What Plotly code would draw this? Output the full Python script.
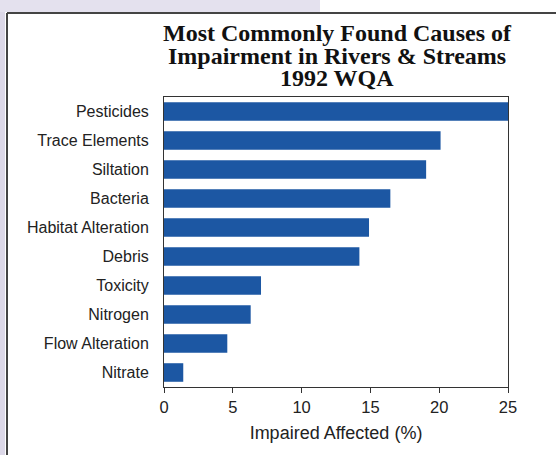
import plotly.graph_objects as go

categories = ["Pesticides", "Trace Elements", "Siltation", "Bacteria", "Habitat Alteration",
              "Debris", "Toxicity", "Nitrogen", "Flow Alteration", "Nitrate"]
values = [25.0, 20.1, 19.05, 16.45, 14.9, 14.2, 7.05, 6.3, 4.6, 1.4]
x_ticks = [0, 5, 10, 15, 20, 25]
title_lines = ["Most Commonly Found Causes of", "Impairment in Rivers & Streams", "1992 WQA"]

W, H = 556, 455
L, R, T, B = 164, 48, 97, 68
ph = H - T - B
pw = W - L - R

LABEL_FONT = "Liberation Sans, Arial, sans-serif"

fig = go.Figure(go.Bar(
    x=values, y=categories, orientation="h",
    marker=dict(color="#1c57a3", line=dict(width=0)),
    width=0.64,
))

fig.update_layout(
    width=W, height=H,
    margin=dict(l=L, r=R, t=T, b=B, autoexpand=False),
    paper_bgcolor="white", plot_bgcolor="white",
    showlegend=False,
    font=dict(family=LABEL_FONT, size=16, color="#222"),
)
fig.update_xaxes(
    range=[0, 25], tickvals=x_ticks, ticks="outside", ticklen=5, tickcolor="#333",
    showline=True, linecolor="#333", linewidth=1, mirror=True, showgrid=False, zeroline=False,
    tickfont=dict(size=16.5, color="#222"), automargin=False,
    title=dict(text="Impaired Affected (%)", font=dict(size=18, color="#222"), standoff=11),
)
fig.update_yaxes(
    categoryorder="array", categoryarray=categories, autorange=False,
    range=[9.5, -0.5], automargin=False,
    showline=True, linecolor="#333", linewidth=1, mirror=True, showgrid=False,
    ticks="", ticklabelstandoff=11, tickfont=dict(size=16, color="#222"),
)

# title as three tight lines
for i, line in enumerate(title_lines):
    py = 33 + 22.5 * i
    fig.add_annotation(
        text="<b>%s</b>" % line, xref="paper", yref="paper",
        x=(337 - L) / pw, y=(H - B - py) / ph,
        xanchor="center", yanchor="middle", showarrow=False,
        font=dict(family="Liberation Serif, Times New Roman, serif", size=24, color="#111"),
    )

# scanned page frame decorations
fig.add_shape(type="rect", xref="paper", yref="paper",
              x0=-L / pw, x1=(5 - L) / pw, y0=-B / ph, y1=(H - B) / ph,
              fillcolor="#dcd8e8", line=dict(width=0), layer="below")
fig.add_shape(type="rect", xref="paper", yref="paper",
              x0=-L / pw, x1=(320 - L) / pw, y0=(H - B - 12) / ph, y1=(H - B) / ph,
              fillcolor="#e4e1ee", line=dict(width=0), layer="below")
fig.add_shape(type="line", xref="paper", yref="paper",
              x0=(7 - L) / pw, x1=(7 - L) / pw, y0=-B / ph, y1=(H - B - 13) / ph,
              line=dict(color="#444", width=2))
fig.add_shape(type="line", xref="paper", yref="paper",
              x0=(7 - L) / pw, x1=(W - L) / pw, y0=(H - B - 13) / ph, y1=(H - B - 13) / ph,
              line=dict(color="#444", width=2))

fig.write_html("out.html")
